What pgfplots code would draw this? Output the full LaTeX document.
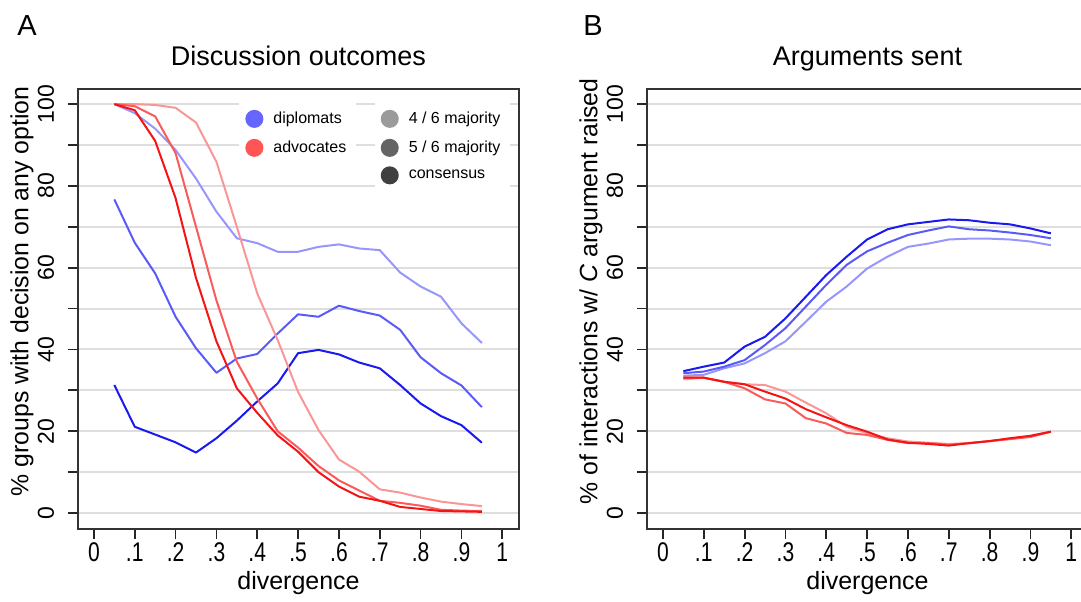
\documentclass[border=0pt]{standalone}
\usepackage{fontspec}
\setmainfont{Liberation Sans}
\newfontfamily\ticknarrow[FakeStretch=0.78]{Liberation Sans}
\usepackage{pgfplots}
\usepackage{pgfplotstable}
\pgfplotsset{compat=1.18}

\definecolor{gridgray}{RGB}{222,222,222}
\definecolor{blueC}{RGB}{25,25,240}
\definecolor{blueF}{RGB}{90,90,248}
\definecolor{blueM}{RGB}{150,150,252}
\definecolor{redC}{RGB}{245,20,20}
\definecolor{redF}{RGB}{250,90,90}
\definecolor{redM}{RGB}{250,150,150}
\definecolor{legdip}{RGB}{102,102,255}
\definecolor{legadv}{RGB}{255,85,85}
\definecolor{legfour}{RGB}{155,155,155}
\definecolor{legfive}{RGB}{100,100,100}
\definecolor{legcons}{RGB}{64,64,64}

\pgfplotstableread{
x    d4    d5    dc    a4    a5    ac
0.05 100   76.7  31.3  100   100   100
0.10 97.8  66.1  21.1  100   99.5  98.5
0.15 94.0  58.6  19.2  99.8  97.0  91.0
0.20 88.8  48.0  17.3  99.1  88.0  77.0
0.25 81.8  40.3  14.8  95.5  70.0  57.5
0.30 73.7  34.3  18.3  85.9  52.0  42.0
0.35 67.2  37.8  22.6  70.0  37.0  30.5
0.40 66.0  38.9  27.3  53.7  28.0  24.5
0.45 63.9  43.9  31.7  42.3  20.0  19.0
0.50 63.9  48.6  39.1  29.6  16.0  15.0
0.55 65.1  48.0  39.9  20.3  11.5  10.0
0.60 65.7  50.7  38.8  13.1  8.0   6.5
0.65 64.7  49.4  36.8  10.1  5.5   4.0
0.70 64.3  48.3  35.4  5.8   3.0   3.0
0.75 58.8  44.8  31.3  5.0   2.5   1.5
0.80 55.4  38.1  26.8  3.8   1.8   1.0
0.85 52.9  34.2  23.7  2.8   0.8   0.5
0.90 46.4  31.2  21.5  2.2   0.6   0.4
0.95 41.6  25.9  17.2  1.7   0.5   0.3
}\leftdata

\pgfplotstableread{
x    b4    b5    bc    r4    r5    rc
0.05 33.6  34.2  34.7  32.7  33.1  33.1
0.10 33.8  34.6  35.8  33.1  33.1  33.1
0.15 35.4  35.8  36.8  32.1  32.1  32.1
0.20 36.6  37.4  40.7  31.5  30.5  31.5
0.25 39.1  41.1  43.1  31.3  27.8  29.7
0.30 42.0  45.2  47.6  29.7  26.8  28.0
0.35 46.8  50.5  52.9  27.0  23.2  25.4
0.40 51.7  55.8  58.2  24.4  21.9  23.4
0.45 55.4  60.7  62.7  21.1  19.6  21.5
0.50 59.8  64.0  66.9  19.5  19.1  19.9
0.55 62.7  66.1  69.4  18.3  17.9  18.0
0.60 65.1  68.0  70.6  17.5  17.1  17.2
0.65 65.9  69.1  71.2  17.2  17.1  16.9
0.70 66.9  70.1  71.8  16.9  16.7  16.5
0.75 67.1  69.4  71.6  17.1  17.1  17.1
0.80 67.1  69.1  71.0  17.6  17.6  17.6
0.85 66.9  68.6  70.6  18.1  18.1  18.3
0.90 66.4  68.0  69.6  18.8  18.6  18.9
0.95 65.5  67.2  68.4  19.9  19.9  19.9
}\rightdata

\pgfplotsset{
  panel/.style={
    scale only axis, width=220.5pt, height=220pt,
    xmin=-0.039, xmax=1.041, ymin=-3.9, ymax=103.7,
    xtick={0,0.1,0.2,0.3,0.4,0.5,0.6,0.7,0.8,0.9,1},
    xticklabels={0,.1,.2,.3,.4,.5,.6,.7,.8,.9,1},
    ytick={0,10,20,30,40,50,60,70,80,90,100},
    yticklabels={0,,20,,40,,60,,80,,100},
    xtick pos=bottom, ytick pos=left,
    ymajorgrids, grid style={line width=1pt, color=gridgray},
    tick align=outside, major tick length=5pt,
    tick style={line width=0.9pt, black!85},
    axis line style={line width=1pt, black!80},
    yticklabel style={font=\fontsize{11.5}{12}\selectfont, rotate=90, anchor=center, yshift=11pt},
    xticklabel style={font=\ticknarrow\fontsize{13.5}{14}\selectfont, anchor=center, yshift=-6.5pt},
    xlabel style={font=\fontsize{12.5}{14}\selectfont, at={(axis description cs:0.5,0)}, anchor=center, yshift=-27pt},
    ylabel style={font=\fontsize{12.4}{14}\selectfont, at={(axis description cs:0,0.54)}, anchor=center, rotate=0, yshift=28pt},
    title style={font=\fontsize{13.5}{16}\selectfont, at={(axis description cs:0.5,1)}, anchor=base, yshift=6pt},
    every axis plot/.append style={line width=1pt, line join=round},
    legend style={draw=none, fill=white, font=\fontsize{8}{9.6}\selectfont,
      inner xsep=3pt, inner ysep=6pt, row sep=3.2pt,
      /tikz/every odd column/.append style={column sep=3pt}},
    legend cell align=left,
  }
}

\begin{document}
\begin{tikzpicture}
\path[use as bounding box] (0pt,0pt) rectangle (540.5pt,300.5pt);

\node[font=\fontsize{14.5}{16}\selectfont] at (13.5pt,287.5pt) {A};
\node[font=\fontsize{14.5}{16}\selectfont] at (296.5pt,287.5pt) {B};

\begin{axis}[panel, at={(39pt,36pt)}, anchor=south west,
  title={Discussion outcomes}, xlabel={divergence},
  ylabel={\% groups with decision on any option},
  legend style={at={(axis description cs:0.365,0.986)}, anchor=north west}]
\addplot[blueM, forget plot] table[x=x,y=d4] {\leftdata};
\addplot[blueF, forget plot] table[x=x,y=d5] {\leftdata};
\addplot[blueC, forget plot] table[x=x,y=dc] {\leftdata};
\addplot[redM, forget plot] table[x=x,y=a4] {\leftdata};
\addplot[redF, forget plot] table[x=x,y=a5] {\leftdata};
\addplot[redC, forget plot] table[x=x,y=ac] {\leftdata};
\addlegendimage{legend image code/.code={\fill[legdip] (4pt,0pt) circle (4pt);}}
\addlegendentry{diplomats}
\addlegendimage{legend image code/.code={\fill[legadv] (4pt,0pt) circle (4pt);}}
\addlegendentry{advocates}
\end{axis}

\begin{axis}[panel, at={(39pt,36pt)}, anchor=south west, hide axis,
  legend style={at={(axis description cs:0.672,0.986)}, anchor=north west}]
\addlegendimage{legend image code/.code={\fill[legfour] (4pt,0pt) circle (4pt);}}
\addlegendentry{4 / 6 majority}
\addlegendimage{legend image code/.code={\fill[legfive] (4pt,0pt) circle (4pt);}}
\addlegendentry{5 / 6 majority}
\addlegendimage{legend image code/.code={\fill[legcons] (4pt,0pt) circle (4pt);}}
\addlegendentry{consensus}
\end{axis}

\begin{axis}[panel, at={(323.5pt,36pt)}, anchor=south west,
  title={Arguments sent}, xlabel={divergence},
  ylabel={\% of interactions w/ \textit{C} argument raised}]
\addplot[blueM] table[x=x,y=b4] {\rightdata};
\addplot[blueF] table[x=x,y=b5] {\rightdata};
\addplot[blueC] table[x=x,y=bc] {\rightdata};
\addplot[redM] table[x=x,y=r4] {\rightdata};
\addplot[redF] table[x=x,y=r5] {\rightdata};
\addplot[redC] table[x=x,y=rc] {\rightdata};
\end{axis}
\end{tikzpicture}
\end{document}
